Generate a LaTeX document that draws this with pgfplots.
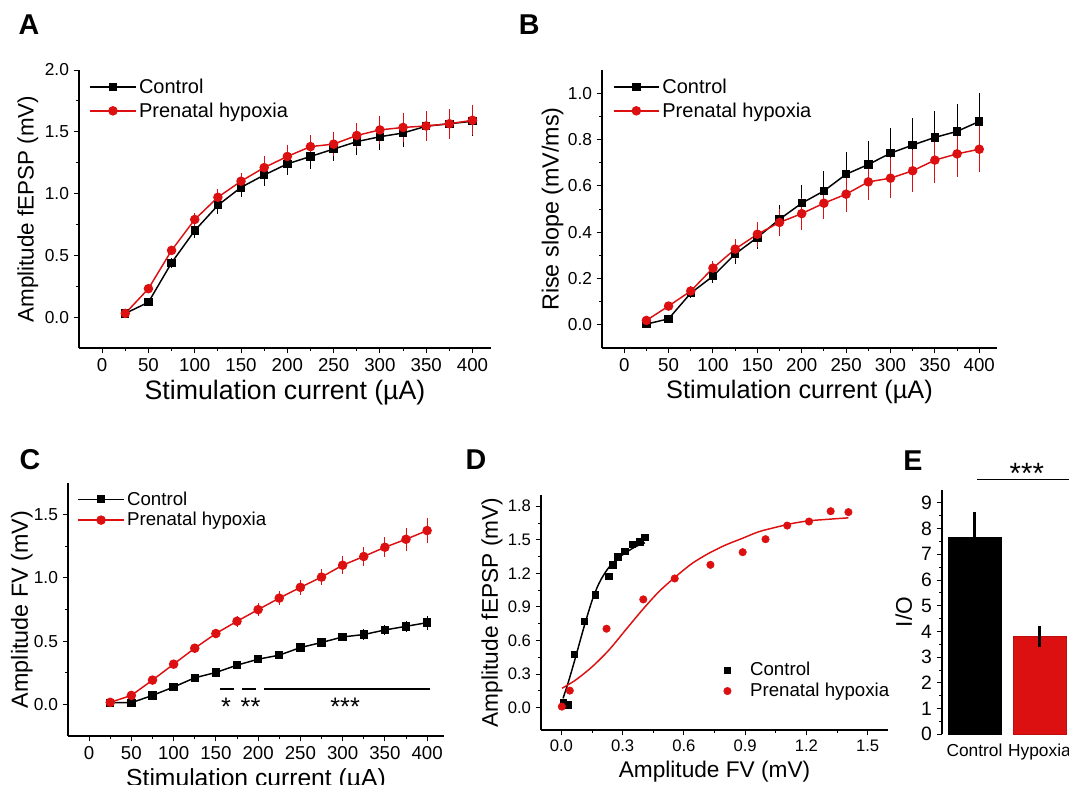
\documentclass[border=0pt]{standalone}
\usepackage{fontspec}
\setmainfont{Liberation Sans}
\usepackage{pgfplots}
\usepackage{pgfplotstable}
\pgfplotsset{compat=1.18}
\definecolor{myred}{RGB}{220,16,16}

\pgfplotstableread{
x cy ce ry re
25 0.03 0.01 0.03 0.01
50 0.12 0.02 0.23 0.02
75 0.44 0.04 0.54 0.03
100 0.70 0.06 0.79 0.05
125 0.905 0.07 0.97 0.07
150 1.05 0.08 1.10 0.07
175 1.15 0.09 1.21 0.09
200 1.24 0.09 1.30 0.09
225 1.30 0.10 1.38 0.095
250 1.36 0.10 1.40 0.10
275 1.42 0.11 1.47 0.10
300 1.46 0.11 1.515 0.11
325 1.49 0.11 1.535 0.12
350 1.545 0.11 1.547 0.12
375 1.565 0.11 1.565 0.12
400 1.585 0.12 1.593 0.12
}\dataA

\pgfplotstableread{
x cy ce ry re
25 0.003 0.01 0.019 0.01
50 0.026 0.01 0.081 0.01
75 0.137 0.02 0.146 0.02
100 0.21 0.03 0.245 0.03
125 0.306 0.045 0.327 0.045
150 0.377 0.05 0.391 0.055
175 0.456 0.06 0.442 0.06
200 0.525 0.078 0.48 0.069
225 0.578 0.087 0.525 0.07
250 0.65 0.095 0.564 0.075
275 0.692 0.102 0.617 0.08
300 0.741 0.11 0.633 0.085
325 0.776 0.116 0.665 0.09
350 0.809 0.115 0.711 0.1
375 0.835 0.12 0.738 0.1
400 0.878 0.122 0.758 0.1
}\dataB

\pgfplotstableread{
x cy ce ry re
25 0.013 0.01 0.016 0.01
50 0.013 0.01 0.071 0.015
75 0.071 0.015 0.192 0.02
100 0.137 0.015 0.318 0.025
125 0.21 0.02 0.444 0.03
150 0.252 0.02 0.56 0.035
175 0.31 0.02 0.657 0.045
200 0.357 0.025 0.749 0.05
225 0.389 0.025 0.84 0.055
250 0.449 0.03 0.925 0.06
275 0.489 0.03 1.006 0.065
300 0.533 0.035 1.10 0.07
325 0.552 0.04 1.169 0.075
350 0.588 0.04 1.242 0.08
375 0.617 0.045 1.305 0.09
400 0.646 0.055 1.374 0.1
}\dataC

\pgfplotstableread{
x y
0.008 0.048
0.033 0.024
0.062 0.476
0.112 0.774
0.166 1.010
0.231 1.175
0.251 1.276
0.277 1.348
0.311 1.395
0.347 1.458
0.384 1.482
0.409 1.523
}\dataDc

\pgfplotstableread{
x y
0.002 0.009
0.041 0.152
0.221 0.705
0.401 0.967
0.555 1.154
0.730 1.276
0.888 1.389
1.000 1.505
1.106 1.627
1.213 1.663
1.319 1.755
1.406 1.747
}\dataDr

\pgfplotstableread{
x y
0.008 0.083
0.037 0.247
0.070 0.455
0.111 0.723
0.151 0.961
0.184 1.110
0.217 1.214
0.249 1.288
0.282 1.342
0.314 1.383
0.347 1.422
0.379 1.452
0.409 1.473
}\fitDc

\pgfplotstableread{
x y
0.003 0.173
0.070 0.247
0.151 0.366
0.233 0.515
0.314 0.693
0.396 0.872
0.477 1.035
0.559 1.169
0.640 1.288
0.721 1.378
0.803 1.452
0.884 1.511
0.966 1.571
1.047 1.610
1.129 1.645
1.210 1.669
1.292 1.681
1.406 1.696
}\fitDr

\pgfplotsset{
  panel/.style={
    scale only axis,
    axis lines=left,
    axis line style={-, line width=0.8pt},
    tick align=outside,
    major tick length=4pt,
    minor tick length=2.2pt,
    every tick/.style={black, line width=0.7pt},
    xticklabel style={font=\fontsize{14}{16}\selectfont},
    yticklabel style={font=\fontsize{13}{15}\selectfont},
    label style={font=\fontsize{17.5}{20}\selectfont},
    /pgf/number format/assume math mode=true,
    yticklabel style={/pgf/number format/fixed, /pgf/number format/fixed zerofill, /pgf/number format/precision=1},
    clip=false,
    legend cell align=left,
    legend style={draw=none, fill=none, inner sep=0pt, font=\fontsize{15}{18}\selectfont, anchor=north west},
    legend image code/.code={\draw[mark repeat=2,mark phase=2,##1] plot coordinates {(0pt,0pt) (17pt,0pt) (34pt,0pt)};},
  },
  curr/.style={
    xmin=-25, xmax=420, xtick={0,50,100,150,200,250,300,350,400}, minor x tick num=1,
    xlabel={Stimulation current (µA)},
    xlabel style={font=\fontsize{18.5}{21}\selectfont},
  },
  ctrl/.style={black, line width=1.1pt, mark=square*, mark size=2.6pt, mark options={solid},
    error bars/.cd, y dir=both, y explicit, error mark=none,
    error bar style={line width=0.7pt, black}},
  hyp/.style={myred, line width=1.1pt, mark=*, mark size=3pt, mark options={solid},
    error bars/.cd, y dir=both, y explicit, error mark=none,
    error bar style={line width=0.7pt, myred}},
}

\begin{document}
\begin{tikzpicture}
\path[use as bounding box] (0,0) rectangle (801.75pt,588pt);

\node[font=\bfseries\fontsize{21.5}{22}\selectfont] at (21.75pt,569.5pt) {A};
\node[font=\bfseries\fontsize{21.5}{22}\selectfont] at (397pt,569.5pt) {B};
\node[font=\bfseries\fontsize{21.5}{22}\selectfont] at (22.5pt,243pt) {C};
\node[font=\bfseries\fontsize{21.5}{22}\selectfont] at (357pt,243.5pt) {D};
\node[font=\bfseries\fontsize{21.5}{22}\selectfont] at (684.75pt,242.25pt) {E};

% Panel A
\begin{axis}[panel, curr, at={(59.25pt,327pt)}, width=309pt, height=208.5pt,
  ymin=-0.25, ymax=2.0, ytick={0,0.5,1,1.5,2}, minor y tick num=1,
  ylabel={Amplitude fEPSP (mV)}, ylabel style={font=\fontsize{16.8}{19}\selectfont},
  ylabel shift=-2pt,
  xlabel style={font=\fontsize{20}{22}\selectfont},
  legend style={at={(axis description cs:0.025,0.979)}, row sep=1.5pt}]
\addplot[ctrl] table[x=x, y=cy, y error=ce] {\dataA};
\addlegendentry{Control}
\addplot[hyp] table[x=x, y=ry, y error=re] {\dataA};
\addlegendentry{Prenatal hypoxia}
\end{axis}

% Panel B
\begin{axis}[panel, curr, at={(451.5pt,327pt)}, width=296.25pt, height=208.5pt,
  ymin=-0.1, ymax=1.1, ytick={0,0.2,0.4,0.6,0.8,1.0}, minor y tick num=1,
  ylabel={Rise slope (mV/ms)}, ylabel shift=-3.5pt,
  xlabel style={font=\fontsize{19}{21}\selectfont},
  legend style={at={(axis description cs:0.027,0.979)}, row sep=1.5pt}]
\addplot[ctrl] table[x=x, y=cy, y error=ce] {\dataB};
\addlegendentry{Control}
\addplot[hyp] table[x=x, y=ry, y error=re] {\dataB};
\addlegendentry{Prenatal hypoxia}
\end{axis}

% Panel C
\begin{axis}[panel, curr, at={(51pt,36pt)}, width=282pt, height=189.75pt,
  ymin=-0.25, ymax=1.75, ytick={0,0.5,1,1.5}, minor y tick num=1,
  ylabel={Amplitude FV (mV)}, ylabel shift=-6pt,
  legend style={at={(axis description cs:0.025,0.978)}, font=\fontsize{14}{16.5}\selectfont}]
\addplot[ctrl] table[x=x, y=cy, y error=ce] {\dataC};
\addlegendentry{Control}
\addplot[hyp] table[x=x, y=ry, y error=re] {\dataC};
\addlegendentry{Prenatal hypoxia}
\addplot[black, line width=1.5pt, forget plot] coordinates {(155,0.118) (172,0.118)};
\addplot[black, line width=1.5pt, forget plot] coordinates {(181,0.118) (198,0.118)};
\addplot[black, line width=1.5pt, forget plot] coordinates {(207,0.118) (404,0.118)};
\node[font=\fontsize{19}{20}\selectfont, anchor=base] at (axis cs:162,-0.085) {*};
\node[font=\fontsize{19}{20}\selectfont, anchor=base] at (axis cs:191,-0.085) {**};
\node[font=\fontsize{19}{20}\selectfont, anchor=base] at (axis cs:303,-0.085) {***};
\end{axis}

% Panel D
\begin{axis}[panel, at={(405.75pt,40.5pt)}, width=260.25pt, height=176.25pt,
  xmin=-0.1, xmax=1.6, ymin=-0.2, ymax=1.9,
  xtick={0,0.3,0.6,0.9,1.2,1.5}, ytick={0,0.3,0.6,0.9,1.2,1.5,1.8},
  minor x tick num=1, minor y tick num=1,
  xlabel={Amplitude FV (mV)}, ylabel={Amplitude fEPSP (mV)}, ylabel shift=-3pt,
  label style={font=\fontsize{17}{19}\selectfont},
  xticklabel style={font=\fontsize{12.5}{14}\selectfont, /pgf/number format/fixed, /pgf/number format/fixed zerofill, /pgf/number format/precision=1},
  yticklabel style={font=\fontsize{12.5}{14}\selectfont},
  legend style={at={(axis description cs:0.525,0.30)}, font=\fontsize{14}{17}\selectfont},
  legend image code/.code={\path[draw=none, fill=none] (0pt,0pt) -- (18pt,0pt); \draw[#1, only marks] plot coordinates {(3pt,0pt)};}]
\addplot[only marks, mark=square*, mark size=2.4pt, black] table {\dataDc};
\addlegendentry{Control}
\addplot[only marks, mark=*, mark size=2.8pt, myred] table {\dataDr};
\addlegendentry{Prenatal hypoxia}
\addplot[black, line width=1.1pt, smooth, forget plot] table {\fitDc};
\addplot[myred, line width=1.1pt, smooth, forget plot] table {\fitDr};
\end{axis}

% Panel E
\begin{axis}[panel, at={(706.5pt,37.3pt)}, width=95pt, height=183.2pt,
  axis x line*=bottom, axis y line*=left,
  x axis line style={draw=none},
  xmin=-0.5, xmax=1.45, ymin=0, ymax=9.5,
  xtick={0,1}, xticklabels={Control,Hypoxia},
  major x tick style={draw=none},
  ytick={0,1,2,3,4,5,6,7,8,9}, minor y tick num=1,
  yticklabel style={font=\fontsize{14.5}{16}\selectfont, /pgf/number format/fixed, /pgf/number format/fixed zerofill=false, /pgf/number format/precision=0},
  xticklabel style={font=\fontsize{13}{15}\selectfont},
  ylabel={I/O}, label style={font=\fontsize{17}{19}\selectfont},
  ybar, bar width=39.5pt, bar shift=0pt]
\addplot[fill=black, draw=black,
  error bars/.cd, y dir=both, y explicit, error mark=none,
  error bar style={line width=2pt, black}] coordinates {(0,7.65) +- (0,1.0)};
\addplot[fill=myred, draw=myred!85!black,
  error bars/.cd, y dir=both, y explicit, error mark=none,
  error bar style={line width=2pt, black}] coordinates {(1,3.8) +- (0,0.42)};
\draw[line width=1pt] (axis cs:0.04,9.92) -- (axis cs:1.6,9.92);
\node[font=\fontsize{22}{24}\selectfont, anchor=base] at (axis cs:0.806,9.76) {***};
\end{axis}

\end{tikzpicture}
\end{document}
